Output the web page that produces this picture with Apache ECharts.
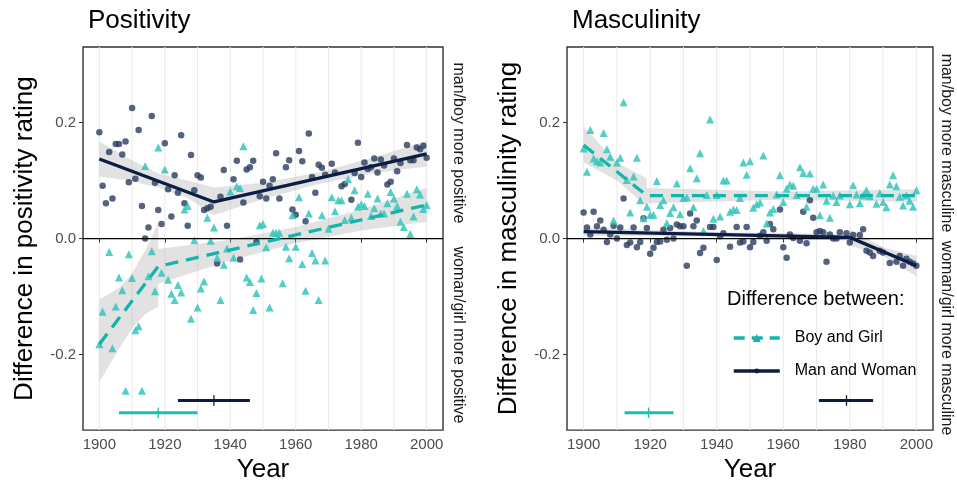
<!DOCTYPE html>
<html><head><meta charset="utf-8">
<script src="https://cdn.jsdelivr.net/npm/echarts@6/dist/echarts.min.js"></script>
<style>html,body{margin:0;padding:0;background:#fff}#c{width:957px;height:488px}</style>
</head><body><div id="c"></div>
<script>
// ---------- data ----------
const decades = [1900,1910,1920,1930,1940,1950,1960,1970,1980,1990,2000];
const yearTicks = [1900,1920,1940,1960,1980,2000];
const valueTicks = [-0.2, 0, 0.2];

// Positivity: Man and Woman (circles)
const posMW = [[1900,0.183],[1901,0.091],[1902,0.061],[1903,0.149],[1904,0.069],[1905,0.163],[1906,0.163],[1907,0.145],[1908,0.167],[1909,0.097],[1910,0.225],[1911,0.103],[1912,0.187],[1913,0.056],[1914,0.0],[1915,0.019],[1916,0.211],[1917,0.096],[1918,0.049],[1919,0.025],[1920,0.164],[1921,0.085],[1922,0.038],[1923,0.109],[1924,0.079],[1925,0.178],[1926,0.061],[1927,0.022],[1928,0.144],[1929,0.083],[1930,0.109],[1931,0.105],[1932,0.049],[1933,0.052],[1934,0.055],[1936,-0.043],[1937,0.072],[1938,0.118],[1939,0.022],[1941,0.102],[1942,0.134],[1943,-0.036],[1944,0.062],[1945,0.119],[1946,0.123],[1947,0.134],[1948,-0.006],[1949,0.073],
[1950,0.098],[1951,0.069],[1952,0.091],[1953,0.102],[1954,0.147],[1955,0.069],[1957,0.123],[1958,0.135],[1959,0.050],[1960,0.041],[1961,0.151],[1962,0.133],[1963,0.030],[1964,0.181],[1965,0.106],[1966,0.079],[1967,0.127],[1968,0.122],[1969,0.110],[1971,0.129],[1972,0.114],[1974,0.090],[1975,0.094],[1977,0.067],[1978,0.113],[1979,0.165],[1980,0.106],[1981,0.131],[1982,0.120],[1983,0.123],[1984,0.138],[1985,0.114],[1986,0.136],[1987,0.126],[1988,0.093],[1989,0.098],[1990,0.138],[1991,0.116],[1992,0.130],[1994,0.161],[1995,0.135],[1996,0.135],[1997,0.157],[1998,0.154],[1999,0.160],[2000,0.139]];

// Positivity: Boy and Girl (triangles)
const posBG = [[1900,-0.182],[1901,-0.126],[1903,-0.023],[1904,-0.189],[1905,-0.117],[1906,-0.067],[1907,-0.089],[1908,-0.262],[1909,-0.027],[1910,-0.068],[1911,-0.158],[1912,-0.151],[1913,-0.262],[1914,0.125],[1915,-0.065],[1916,-0.022],[1917,-0.091],[1918,0.157],[1919,-0.059],[1920,0.119],[1921,-0.071],[1922,-0.095],[1923,-0.106],[1924,-0.080],[1925,-0.093],[1926,0.050],[1927,0.056],[1928,-0.138],[1929,-0.003],[1930,-0.119],[1931,-0.086],[1932,-0.074],[1933,0.036],[1934,-0.004],[1935,0.019],[1936,-0.033],[1937,-0.106],[1938,-0.045],[1939,-0.017],[1940,0.081],[1941,-0.033],[1942,0.090],[1943,0.087],[1944,0.159],[1945,-0.067],[1946,-0.075],[1947,-0.123],[1948,-0.094],[1949,0.023],[1949.5,-0.069],
[1950,0.025],[1951,-0.015],[1952,-0.119],[1953,0.010],[1954,0.010],[1955,0.010],[1956,-0.077],[1957,-0.014],[1958,-0.034],[1959,0.040],[1960,-0.014],[1961,0.071],[1962,-0.044],[1963,-0.090],[1964,0.043],[1965,-0.025],[1966,-0.038],[1967,-0.106],[1968,0.040],[1969,-0.038],[1970,0.017],[1971,0.071],[1972,0.047],[1973,0.066],[1974,0.066],[1975,0.032],[1976,0.102],[1977,0.036],[1978,0.083],[1979,0.055],[1980,0.059],[1981,0.056],[1982,0.077],[1983,0.039],[1984,0.052],[1985,0.069],[1986,0.043],[1987,0.043],[1988,0.061],[1989,0.080],[1990,0.069],[1991,0.056],[1992,0.029],[1993,0.020],[1994,0.077],[1995,0.008],[1996,0.038],[1997,0.085],[1998,0.076],[1999,0.051],[2000,0.058]];

// Masculinity: Boy and Girl (triangles)
const masBG = [[1900,0.155],[1901,0.115],[1902,0.187],[1903,0.138],[1904,0.133],[1905,0.131],[1906,0.182],[1907,0.154],[1908,0.141],[1909,0.031],[1910,0.131],[1911,0.139],[1912,0.235],[1913,0.101],[1914,0.045],[1915,0.107],[1916,0.139],[1917,0.066],[1918,0.035],[1919,0.055],[1920,0.041],[1921,0.041],[1922,0.099],[1923,0.058],[1924,0.066],[1925,0.027],[1926,0.044],[1927,0.054],[1928,0.095],[1929,0.042],[1930,0.070],[1931,0.071],[1932,0.121],[1933,0.054],[1934,0.104],[1935,0.147],[1936,0.013],[1937,0.075],[1938,0.205],[1939,0.034],[1940,0.075],[1941,0.038],[1942,0.100],[1943,0.100],[1944,0.046],[1945,0.050],[1946,0.049],[1947,0.070],[1948,0.131],[1949,0.110],
[1950,0.133],[1951,0.053],[1952,0.059],[1953,0.062],[1954,0.143],[1955,0.026],[1956,0.045],[1957,0.051],[1958,0.076],[1959,0.109],[1960,0.063],[1961,0.086],[1962,0.093],[1963,0.091],[1964,0.075],[1965,0.123],[1966,0.113],[1967,0.055],[1968,0.112],[1969,0.086],[1970,0.086],[1971,0.040],[1972,0.093],[1973,0.065],[1974,0.036],[1975,0.074],[1976,0.063],[1977,0.074],[1980,0.059],[1981,0.092],[1982,0.076],[1983,0.061],[1984,0.074],[1985,0.083],[1986,0.073],[1988,0.060],[1989,0.078],[1990,0.063],[1991,0.054],[1992,0.093],[1993,0.109],[1994,0.090],[1995,0.072],[1996,0.057],[1997,0.074],[1998,0.065],[1999,0.055],[2000,0.083]];

// Masculinity: Man and Woman (circles)
const masMW = [[1900,0.045],[1901,0.019],[1902,0.007],[1903,0.046],[1904,0.021],[1905,0.031],[1906,0.015],[1907,-0.006],[1908,0.007],[1909,0.022],[1910,0.0],[1911,0.019],[1912,0.069],[1913,-0.011],[1914,-0.007],[1915,0.019],[1916,-0.015],[1917,-0.006],[1918,0.035],[1919,0.018],[1920,-0.026],[1921,-0.016],[1922,-0.006],[1923,-0.005],[1924,0.015],[1925,-0.002],[1926,0.018],[1927,0.0],[1928,0.024],[1929,0.021],[1930,0.021],[1931,-0.047],[1932,0.043],[1933,0.021],[1934,0.031],[1935,-0.025],[1936,-0.016],[1938,0.020],[1939,0.020],[1940,-0.037],[1941,0.004],[1942,0.009],[1944,-0.014],[1946,0.020],[1947,-0.007],[1948,-0.005],[1949,0.020],
[1950,-0.015],[1951,-0.006],[1953,0.005],[1954,0.011],[1955,-0.004],[1956,0.025],[1957,0.016],[1959,0.050],[1960,-0.015],[1961,-0.033],[1962,0.007],[1963,0.001],[1965,-0.004],[1966,0.046],[1967,-0.008],[1968,0.066],[1969,0.036],[1970,0.011],[1971,0.013],[1972,0.011],[1973,-0.040],[1974,0.007],[1975,0.0],[1976,0.0],[1977,0.011],[1979,0.009],[1980,-0.007],[1981,0.006],[1983,0.006],[1984,0.016],[1985,-0.021],[1986,-0.024],[1987,-0.030],[1989,-0.021],[1990,-0.024],[1992,-0.042],[1994,-0.040],[1995,-0.030],[1996,-0.047],[1997,-0.035],[1998,-0.040],[1999,-0.043],[2000,-0.047]];

// Segmented fits [year, value]
const posFitMW = [[1900,0.137],[1935,0.063],[2000,0.146]];
const posFitBG = [[1900,-0.182],[1918,-0.048],[2000,0.058]];
const masFitBG = [[1900,0.161],[1919,0.074],[2000,0.074]];
const masFitMW = [[1900,0.012],[1980,0.002],[2000,-0.047]];

// Confidence ribbons per segment [year, lower, upper]
const posRibMW1 = [[1900,0.107,0.167],[1909,0.100,0.138],[1918,0.088,0.112],[1927,0.070,0.100],[1935,0.040,0.088]];
const posRibMW2 = [[1935,0.040,0.088],[1950,0.068,0.096],[1967,0.094,0.114],[1985,0.114,0.142],[2000,0.124,0.168]];
const posRibBG1 = [[1900,-0.247,-0.105],[1906,-0.19,-0.085],[1910,-0.155,-0.06],[1914,-0.13,-0.02],[1918,-0.117,0.027]];
const posRibBG2 = [[1918,-0.078,-0.018],[1940,-0.038,-0.002],[1960,-0.008,0.020],[1980,0.014,0.050],[2000,0.029,0.087]];
const masRibBG1 = [[1900,0.131,0.193],[1910,0.100,0.130],[1919,0.055,0.104]];
const masRibBG2 = [[1919,0.061,0.087],[1960,0.067,0.081],[2000,0.063,0.085]];
const masRibMW1 = [[1900,0.005,0.019],[1940,0.003,0.011],[1980,-0.004,0.008]];
const masRibMW2 = [[1980,-0.012,0.016],[1990,-0.030,-0.015],[2000,-0.065,-0.030]];

// Breakpoint estimates [lower, estimate, upper] and the level they are drawn at
const posBreakBG = [1906, 1918, 1930];
const posBreakMW = [1924, 1935, 1946];
const masBreakBG = [1912.3, 1919.5, 1927];
const masBreakMW = [1970.7, 1979, 1987];
const breakLevelBG = -0.300;
const breakLevelMW = -0.279;

// ---------- styling ----------
const FONT = "'Liberation Sans', Arial, sans-serif";
const TEAL_PT = '#35c6bc', TEAL_LINE = '#12b5ab', NAVY_LINE = '#0b1d42', NAVY_PT = '#2a3c60';
const Y_MIN = -0.33, Y_MAX = 0.33;

function gridLines(g) {
  return {type:'custom', xAxisIndex:g, yAxisIndex:g, silent:true, z:0,
    data: decades.map(d=>[d]),
    encode:{x:0},
    renderItem:(p, api)=>{
      const a = api.coord([api.value(0), Y_MIN]);
      const b = api.coord([api.value(0), Y_MAX]);
      return {type:'line', shape:{x1:a[0], y1:a[1], x2:b[0], y2:b[1]},
              style:{stroke:'#ebebeb', lineWidth:1.1}};
    }};
}
function zeroLine(g) {
  return {type:'line', xAxisIndex:g, yAxisIndex:g, data:[[1895,0],[2005,0]], symbol:'none',
    lineStyle:{color:'#000', width:1.3}, silent:true, z:3};
}
function ribbon(g, seg) {
  return {type:'custom', xAxisIndex:g, yAxisIndex:g, silent:true, z:1,
    data:[[seg[0][0], seg[0][1]]],
    renderItem:(p, api)=>{
      const up = seg.map(r=>api.coord([r[0], r[2]]));
      const lo = seg.slice().reverse().map(r=>api.coord([r[0], r[1]]));
      return {type:'polygon', shape:{points: up.concat(lo)}, style:{fill:'#b4b4b4', opacity:0.38}};
    }};
}
function breakBar(g, br, level, color) {
  return [
    {type:'line', xAxisIndex:g, yAxisIndex:g, data:[[br[0],level],[br[2],level]], symbol:'none',
     lineStyle:{color, width:3}, silent:true, z:4},
    {type:'line', xAxisIndex:g, yAxisIndex:g, data:[[br[1],level-0.009],[br[1],level+0.009]], symbol:'none',
     lineStyle:{color, width:1.3}, silent:true, z:4}
  ];
}
function panel(g, mw, bg, fitMW, fitBG, ribs, brBG, brMW) {
  let s = [gridLines(g)];
  ribs.forEach(r=>s.push(ribbon(g, r)));
  s.push(zeroLine(g));
  s.push({type:'scatter', name:'pts MW'+g, xAxisIndex:g, yAxisIndex:g, data:mw, symbol:'circle', symbolSize:6.5,
    itemStyle:{color:NAVY_PT, opacity:0.8}, z:2});
  s.push({type:'scatter', name:'pts BG'+g, xAxisIndex:g, yAxisIndex:g, data:bg, symbol:'triangle', symbolSize:8,
    itemStyle:{color:TEAL_PT, opacity:0.85}, z:2});
  s.push({type:'line', name:'Boy and Girl', xAxisIndex:g, yAxisIndex:g, data:fitBG, symbol:'triangle', symbolSize:9,
    showSymbol:false, itemStyle:{color:TEAL_LINE}, lineStyle:{color:TEAL_LINE, width:3.3, type:[13,8]}, z:5});
  s.push({type:'line', name:'Man and Woman', xAxisIndex:g, yAxisIndex:g, data:fitMW, symbol:'circle', symbolSize:6,
    showSymbol:false, itemStyle:{color:NAVY_LINE}, lineStyle:{color:NAVY_LINE, width:3.3}, z:5});
  s = s.concat(breakBar(g, brBG, breakLevelBG, '#1dbdb3'));
  s = s.concat(breakBar(g, brMW, breakLevelMW, NAVY_LINE));
  return s;
}

const grids = [
  {left:83, top:47, width:360, height:385},
  {left:567, top:47, width:366, height:385}
];
const yNames = ['Difference in positivity rating', 'Difference in masculinity rating'];
const legendText = {fontSize:16, color:'#000', fontFamily:FONT, padding:[0,0,0,10]};

const option = {
  animation:false,
  backgroundColor:'#fff',
  textStyle:{fontFamily:FONT},
  title:[
    {text:'Positivity', left:88, top:8, padding:0, textStyle:{fontSize:26, fontWeight:'normal', color:'#000', fontFamily:FONT}},
    {text:'Masculinity', left:572, top:8, padding:0, textStyle:{fontSize:26, fontWeight:'normal', color:'#000', fontFamily:FONT}},
    {text:'Difference between:', left:727, top:289, padding:0, textStyle:{fontSize:20, fontWeight:'normal', color:'#000', fontFamily:FONT}}
  ],
  legend:[
    {data:['Boy and Girl'], left:732, top:330, padding:0, itemWidth:46, itemHeight:10, selectedMode:false,
     lineStyle:{width:3.5, type:[11,7]}, textStyle:legendText},
    {data:['Man and Woman'], left:732, top:363, padding:0, itemWidth:46, itemHeight:6, selectedMode:false,
     lineStyle:{width:3.5}, textStyle:legendText}
  ],
  grid: grids.map(g=>Object.assign({show:true, borderColor:'#333', borderWidth:1.4, backgroundColor:'#fff', containLabel:false}, g)),
  xAxis: [0,1].map(g=>({
    gridIndex:g, type:'value', min:1895, max:2005,
    axisLine:{show:false},
    axisTick:{show:true, length:4, customValues:yearTicks, lineStyle:{color:'#333', width:1}},
    axisLabel:{customValues:yearTicks, formatter:v=>String(v), color:'#4d4d4d', fontSize:15, margin:7, fontFamily:FONT},
    splitLine:{show:false},
    name:'Year', nameLocation:'middle', nameGap:24,
    nameTextStyle:{fontSize:26, color:'#000', fontFamily:FONT}
  })),
  yAxis: [0,1].map(g=>({
    gridIndex:g, type:'value', min:Y_MIN, max:Y_MAX,
    axisLine:{show:false},
    axisTick:{show:true, length:4, customValues:valueTicks, lineStyle:{color:'#333', width:1}},
    axisLabel:{customValues:valueTicks, formatter:v=>Number(v).toFixed(1), color:'#4d4d4d', fontSize:15, margin:7, fontFamily:FONT},
    splitLine:{show:false},
    name:yNames[g], nameLocation:'middle', nameGap:45,
    nameTextStyle:{fontSize:26, color:'#000', fontFamily:FONT}
  })),
  graphic:[
    {type:'text', x:458, y:143, rotation:-Math.PI/2, silent:true,
     style:{text:'man/boy more positive', fontSize:16, fill:'#1a1a1a', align:'center', verticalAlign:'middle', fontFamily:FONT}},
    {type:'text', x:458, y:335, rotation:-Math.PI/2, silent:true,
     style:{text:'woman/girl more positive', fontSize:16, fill:'#1a1a1a', align:'center', verticalAlign:'middle', fontFamily:FONT}},
    {type:'text', x:946, y:143, rotation:-Math.PI/2, silent:true,
     style:{text:'man/boy more masculine', fontSize:16, fill:'#1a1a1a', align:'center', verticalAlign:'middle', fontFamily:FONT}},
    {type:'text', x:946, y:338, rotation:-Math.PI/2, silent:true,
     style:{text:'woman/girl more masculine', fontSize:16, fill:'#1a1a1a', align:'center', verticalAlign:'middle', fontFamily:FONT}}
  ],
  series: [].concat(
    panel(0, posMW, posBG, posFitMW, posFitBG, [posRibMW1,posRibMW2,posRibBG1,posRibBG2], posBreakBG, posBreakMW),
    panel(1, masMW, masBG, masFitMW, masFitBG, [masRibMW1,masRibMW2,masRibBG1,masRibBG2], masBreakBG, masBreakMW)
  )
};
const chart = echarts.init(document.getElementById('c'), null, {renderer:'canvas'});
chart.setOption(option);
</script></body></html>
